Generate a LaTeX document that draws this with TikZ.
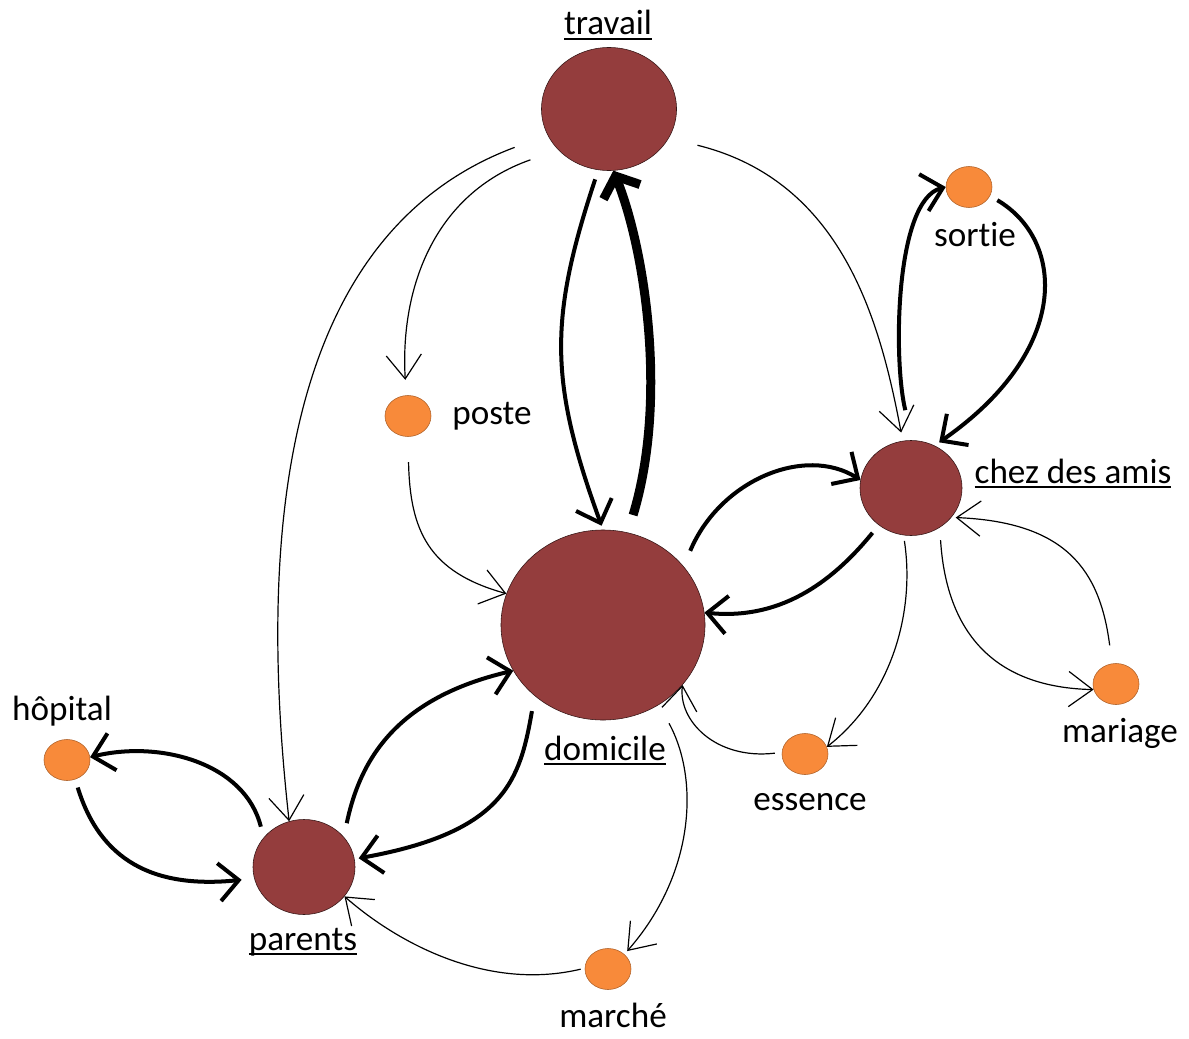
\documentclass[tikz,border=0pt]{standalone}
\usepackage{fontspec}
\setmainfont{Carlito}[Ligatures=NoCommon]
\usetikzlibrary{arrows.meta,shapes.geometric}

\definecolor{sitered}{RGB}{148,61,61}
\definecolor{spotorange}{RGB}{248,138,58}

% underline a bit thicker and lower than \underline
\newcommand{\ulbl}[1]{\sbox0{#1}\rlap{\rule[-3.6pt]{\wd0}{1.4pt}}\usebox0}

\begin{document}
\begin{tikzpicture}[
      x=0.025cm, y=-0.025cm,
      site/.style={ellipse, draw=black!65!sitered, fill=sitered, line width=0.4pt, inner sep=0pt},
      spot/.style={ellipse, draw=black!30!spotorange, fill=spotorange, line width=0.4pt, inner sep=0pt,
                   minimum width=1.15cm, minimum height=1.025cm},
      lbl/.style={font=\fontsize{25}{30}\selectfont, anchor=base, inner sep=0pt},
      minor/.style={line width=0.85pt, -{Straight Barb[length=17pt,width=25pt,sharp]}},
      trip/.style={line width=2.85pt, -{Straight Barb[length=14pt,width=27pt,sharp]}},
      heavy/.style={line width=6.4pt, -{Straight Barb[length=12pt,width=28pt,sharp]}}
    ]

    \useasboundingbox (0,0) rectangle (1189,1038);

    % ---- main places ----
    \node[site, minimum width=3.375cm, minimum height=3.075cm] (travail) at (609,109) {};
    \node[site, minimum width=5.1cm, minimum height=4.75cm] (domicile) at (603,625) {};
    \node[site, minimum width=2.55cm, minimum height=2.375cm] (amis) at (911,488) {};
    \node[site, minimum width=2.55cm, minimum height=2.375cm] (parents) at (304,867) {};

    % ---- occasional stops ----
    \node[spot] (hopital) at (67,760) {};
    \node[spot] (poste) at (408,416) {};
    \node[spot] (sortie) at (969,187) {};
    \node[spot] (mariage) at (1116,684) {};
    \node[spot] (essence) at (805,754) {};
    \node[spot] (marche) at (608,969) {};

    % ---- labels ----
    \node[lbl] (ltravail) at (608,35) {\ulbl{travail}};
    \node[lbl] (ldomicile) at (605,760) {\ulbl{domicile}};
    \node[lbl] (lamis) at (1073,483) {\ulbl{chez des amis}};
    \node[lbl] (lparents) at (303,950) {\ulbl{parents}};
    \node[lbl] (lhopital) at (62,720) {hôpital};
    \node[lbl] (lposte) at (492,424) {poste};
    \node[lbl] (lsortie) at (975,246) {sortie};
    \node[lbl] (lmariage) at (1120,742) {mariage};
    \node[lbl] (lessence) at (810,810) {essence};
    \node[lbl] (lmarche) at (613,1027) {marché};

    % ================= frequent trips =================
    \draw[heavy, shorten <=13pt] (domicile.75) .. controls (668,400) and (645,250) .. (travail.-86);
    \draw[trip, shorten <=7pt, shorten >=3pt] (travail.-100) .. controls (549,319) and (549,381) .. (domicile.90);

    \draw[trip, shorten <=12pt] (domicile.36) .. controls (720,480) and (805,445) .. (amis.171);
    \draw[trip, shorten <=7pt] (amis.-131) .. controls (830,585) and (778,620) .. (domicile.7);

    \draw[trip, shorten <=22pt] (amis.88) .. controls (893,360) and (895,200) .. (sortie.180);
    \draw[trip, shorten <=6pt, shorten >=4pt] (sortie.-23) .. controls (1065,240) and (1072,350) .. (amis.61);

    \draw[trip, shorten <=10pt] (parents.37) .. controls (360,760) and (396,698) .. (domicile.-153);
    \draw[trip, shorten <=11pt, shorten >=3pt] (domicile.-134) .. controls (520,780) and (505,832) .. (parents.9);

    \draw[trip, shorten <=8pt] (parents.144) .. controls (245,763) and (160,740) .. (hopital.7);
    \draw[trip, shorten <=6pt, shorten >=9pt] (hopital.-67) .. controls (100,860) and (153,889) .. (parents.-167);

    % ================= rare trips =================
    \draw[minor, shorten <=21pt, shorten >=11pt] (travail.-141) .. controls (433,194) and (400,290) .. (poste.95);
    \draw[minor, shorten <=18pt] (poste.-90) .. controls (410,530) and (428,572) .. (domicile.162);
    \draw[minor, shorten <=25pt] (travail.-157) .. controls (272,238) and (260,560) .. (parents.108);
    \draw[minor, shorten <=21pt, shorten >=6pt] (travail.-26) .. controls (842,181) and (880,320) .. (amis.100);

    \draw[minor, shorten <=4pt] (amis.-99) .. controls (915,610) and (893,695) .. (essence.18);
    \draw[minor, shorten <=5pt] (essence.176) .. controls (715,760) and (678,720) .. (domicile.-37);
    \draw[minor, shorten <=9pt] (amis.-54) .. controls (945,610) and (975,687) .. (mariage.-166);
    \draw[minor, shorten <=13pt, shorten >=3pt] (mariage.101) .. controls (1100,570) and (1066,522) .. (amis.-36);

    \draw[minor, shorten <=15pt, shorten >=3pt] (domicile.-55) .. controls (700,780) and (694,875) .. (marche.42);
    \draw[minor, shorten <=3pt] (marche.178) .. controls (489,991) and (400,945) .. (parents.-36);

\end{tikzpicture}
\end{document}
